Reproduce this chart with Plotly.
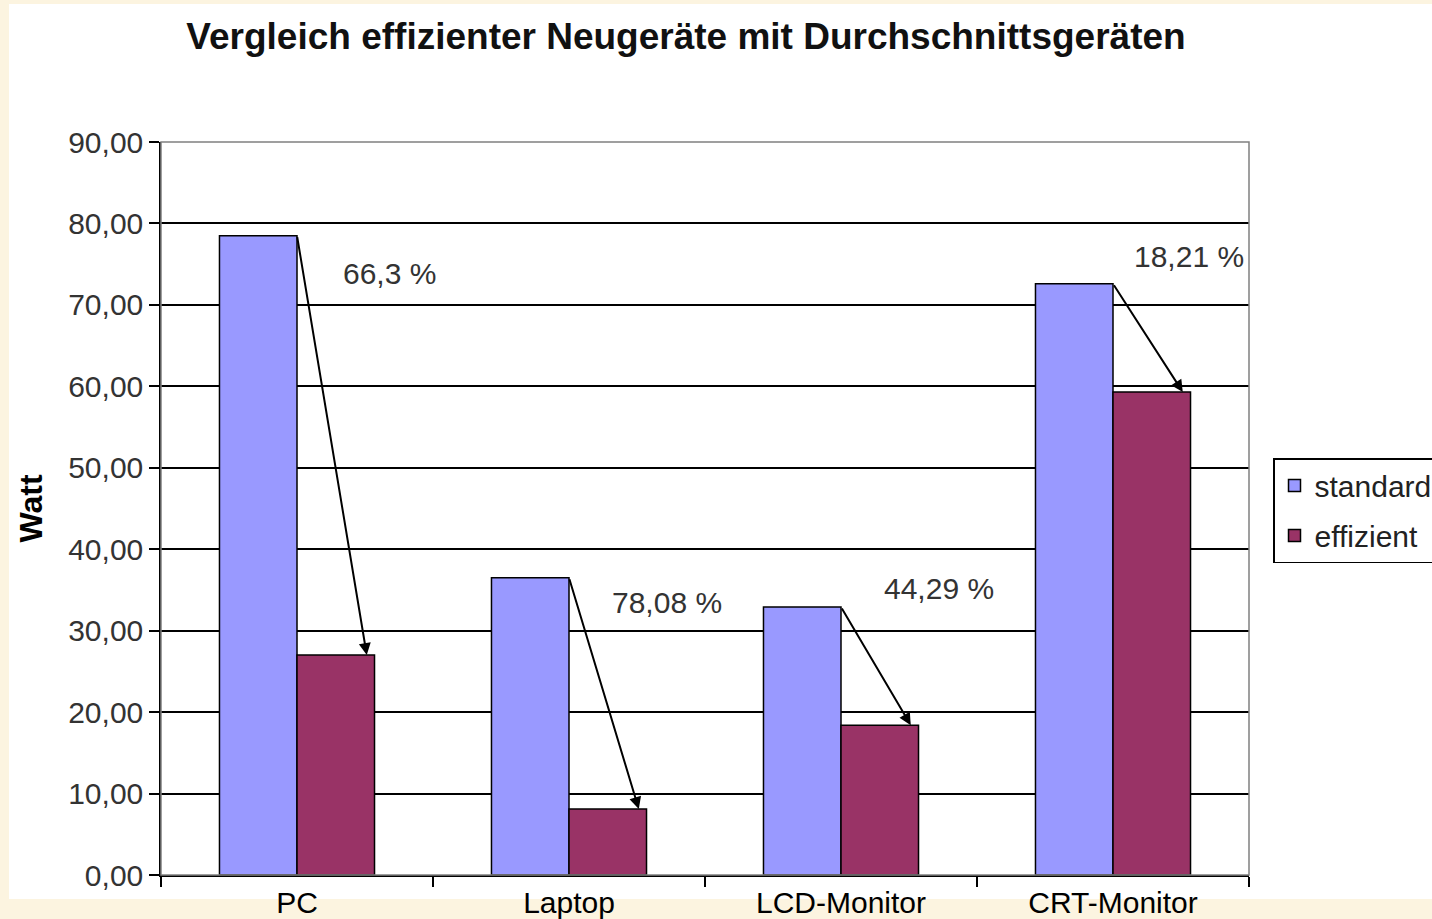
import plotly.graph_objects as go

categories = ["PC", "Laptop", "LCD-Monitor", "CRT-Monitor"]
standard = [78.5, 36.5, 32.9, 72.6]
effizient = [27.0, 8.1, 18.4, 59.3]
reduction_labels = ["66,3 %", "78,08 %", "44,29 %", "18,21 %"]
label_offsets = [0.34, 0.36, 0.36, 0.28]
label_y = [73.9, 33.5, 35.2, 76.0]

W, H = 1432, 919
L, R, T, B = 161, W - 1249, 142, H - 875
pw, ph = W - L - R, H - T - B
CREAM = "#FCF4E0"

fig = go.Figure()
fig.add_bar(x=categories, y=standard, name="standard", legendgroup="a",
            marker=dict(color="#9999FF", line=dict(color="black", width=1.5)))
fig.add_bar(x=categories, y=effizient, name="effizient", legendgroup="b",
            marker=dict(color="#993366", line=dict(color="black", width=1.5)))

annotations = []
bw = (1 - 0.43) / 2
for i in range(len(categories)):
    annotations.append(dict(
        x=i + bw * 0.9, y=effizient[i], ax=i, ay=standard[i],
        xref="x", yref="y", axref="x", ayref="y",
        showarrow=True, arrowhead=2, arrowsize=1.2, arrowwidth=2,
        arrowcolor="black", text=""))
    annotations.append(dict(
        x=i + label_offsets[i], y=label_y[i], xref="x", yref="y",
        text=reduction_labels[i], showarrow=False,
        font=dict(family="Liberation Sans, Arial", size=30, color="#333333")))

shapes = [
    dict(type="rect", xref="paper", yref="paper",
         x0=(9 - L) / pw, x1=(W + 5 - L) / pw,
         y0=(T + ph - 899) / ph, y1=(T + ph - 4) / ph,
         fillcolor="white", line=dict(width=0), layer="below"),
    dict(type="rect", xref="paper", yref="paper", x0=0, x1=1, y0=0, y1=1,
         line=dict(color="#808080", width=1.5), fillcolor="rgba(0,0,0,0)", layer="above"),
]

fig.update_layout(
    width=W, height=H,
    margin=dict(l=L, r=R, t=T, b=B, autoexpand=False),
    paper_bgcolor=CREAM,
    plot_bgcolor="#C0C0C0",
    separators=",.",
    barmode="group", bargap=0.43, bargroupgap=0,
    font=dict(family="Liberation Sans, Arial", color="black"),
    title=dict(text="<b>Vergleich effizienter Neugeräte mit Durchschnittsgeräten</b>",
               x=686 / W, xanchor="center", y=1 - 36 / H, yanchor="middle",
               font=dict(size=37, color="#111111")),
    xaxis=dict(type="category", showgrid=False, ticks="outside", tickson="boundaries",
               ticklen=10, tickwidth=1.5, tickcolor="black",
               showline=True, linecolor="black", linewidth=1.5, automargin=False,
               tickfont=dict(size=30, color="black"), range=[-0.5, 3.5],
               ticklabelstandoff=0),
    yaxis=dict(range=[0, 90], dtick=10, tickformat=".2f", automargin=False,
               showgrid=True, gridcolor="black", gridwidth=1.5,
               showline=True, linecolor="black", linewidth=1.5,
               ticks="outside", ticklen=10, tickcolor="black", tickwidth=1.5,
               tickfont=dict(size=30, color="#333333"), zeroline=False,
               title=dict(text="<b>Watt</b>", font=dict(size=32, color="black"), standoff=16)),
    legend=dict(x=(1273 - L) / pw, xanchor="left", y=(T + ph - 458) / ph, yanchor="top",
                bgcolor="white", bordercolor="black", borderwidth=1.5,
                traceorder="grouped", tracegroupgap=8,
                font=dict(size=30, color="#222222"), itemwidth=30),
    annotations=annotations,
    shapes=shapes,
)

fig.write_html("out.html",
               config={"responsive": False, "displayModeBar": False},
               post_script="document.body.style.margin='0';document.body.style.overflow='hidden';document.body.style.background='%s';" % CREAM)
